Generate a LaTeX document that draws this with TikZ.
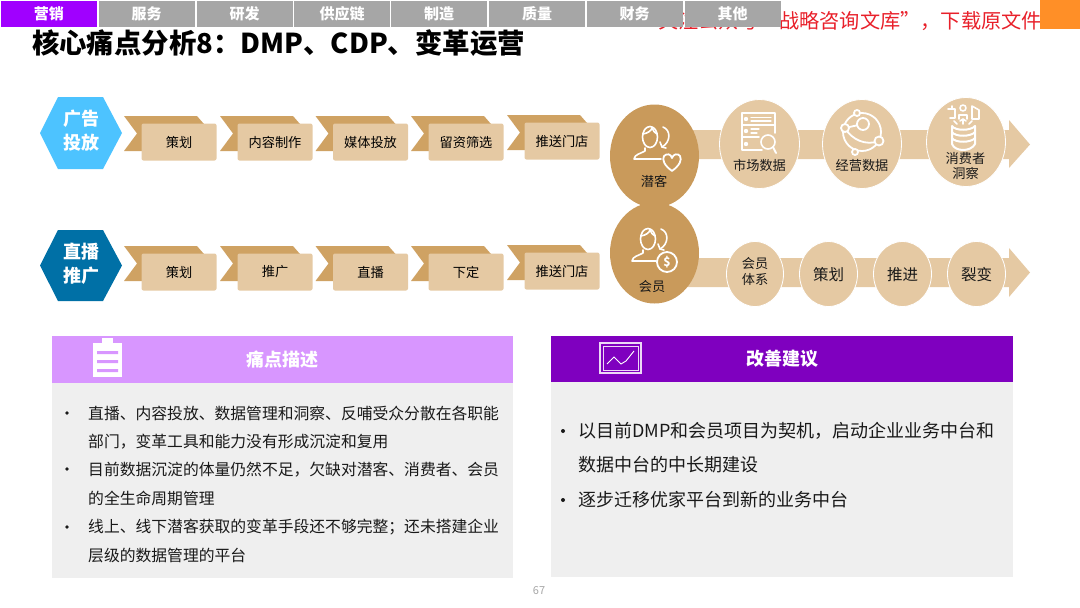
\documentclass[tikz,border=0pt]{standalone}
\usepackage{fontspec}
\setmainfont{Noto Sans CJK SC}
\usepackage{xcolor}
\usepackage{tikz}
\usetikzlibrary{shapes.geometric, arrows.meta, positioning}
\definecolor{TABpurple}{RGB}{160,0,255}
\definecolor{TABgrey}{RGB}{166,166,166}
\definecolor{TANdark}{RGB}{207,162,99}
\definecolor{TANoval}{RGB}{201,154,91}
\definecolor{TANlight}{RGB}{229,201,163}
\definecolor{HEXcyan}{RGB}{77,195,255}
\definecolor{HEXblue}{RGB}{0,112,166}
\definecolor{PANlilac}{RGB}{216,150,255}
\definecolor{PANviolet}{RGB}{127,0,191}
\definecolor{PANbody}{RGB}{239,239,239}
\definecolor{WARNred}{RGB}{232,32,42}
\definecolor{CORNERorange}{RGB}{255,143,39}
\newcommand{\fsz}[1]{\fontsize{#1pt}{#1pt}\selectfont}

\begin{document}
\begin{tikzpicture}[x=1pt, y=-1pt,
    tabbox/.style={fill=TABgrey, minimum width=96pt, minimum height=26pt, inner sep=0pt, text=white, font=\fsz{15}\bfseries},
    stepcard/.style={fill=TANlight, rounded corners=2pt, minimum width=75pt, minimum height=37pt, inner sep=0pt, font=\fsz{13.2}},
    dot/.style={fill=TANlight, draw=white, line width=0.8pt, ellipse, inner sep=0pt},
    lab/.style={font=\fsz{13.2}, align=center, inner sep=0pt, text=black!90},
    head/.style={text=white, font=\fsz{18}\bfseries, inner sep=0pt},
    hexlab/.style={text=white, font=\fsz{18}\bfseries, align=center, inner sep=0pt},
    bodytxt/.style={font=\fsz{15.8}, anchor=west, inner sep=0pt, text=black!90},
    bigtxt/.style={font=\fsz{18}, anchor=west, inner sep=0pt, text=black!90},
    icon/.style={draw=white, line width=1.6pt, line cap=round, line join=round}]
    \useasboundingbox (0,0) rectangle (1080,608);
    % Red note, partly under the tabs
    \node[text=WARNred, font=\fsz{20.2}, anchor=east, inner sep=0pt] (note) at (1042,21) {关注公众号“战略咨询文库”，下载原文件};
    \fill[CORNERorange] (1040,0) rectangle (1080,29);
    % Tabs
    \node[tabbox, fill=TABpurple] (tab0) at (49,14) {营销};
    \foreach \x/\lab/\id in {146.5/服务/1, 244.5/研发/2, 342/供应链/3, 439/制造/4, 537/质量/5, 634.5/财务/6, 732.5/其他/7}{
      \node[tabbox] (tab\id) at (\x,14) {\lab};
    }
    % Title
    \node[font=\fsz{27.4}\bfseries, anchor=west, inner sep=0pt] (title) at (32,43) {核心痛点分析8：DMP、CDP、变革运营};
    % Hexagons
    \fill[HEXcyan] (40,133) -- (58,97) -- (103,97) -- (122,133) -- (103,169) -- (58,169) -- cycle;
    \node[hexlab] (hexa) at (81,131) {广告\\[6pt]投放};
    \fill[HEXblue] (40,265.5) -- (58,230) -- (103,230) -- (122,265.5) -- (103,301) -- (58,301) -- cycle;
    \node[hexlab] (hexb) at (81,264) {直播\\[6pt]推广};
    % Step chevrons, first row
    \foreach \x/\lab/\id/\dy in {124/策划/1/0, 220/内容制作/2/0, 315.5/媒体投放/3/0, 411/留资筛选/4/0, 507/推送门店/5/-1}{
      \fill[TANdark] (\x,116+\dy) -- (\x+73,116+\dy) -- (\x+80,124+\dy) -- (\x+80,151+\dy) -- (\x,151+\dy) -- (\x+13,133.5+\dy) -- cycle;
      \node[stepcard] (ra\id) at (\x+55,142+\dy) {\lab};
    }
    % Step chevrons, second row
    \foreach \x/\lab/\id/\dy in {124/策划/1/0, 220/推广/2/0, 315.5/直播/3/0, 411/下定/4/0, 507/推送门店/5/-1}{
      \fill[TANdark] (\x,246+\dy) -- (\x+73,246+\dy) -- (\x+80,254+\dy) -- (\x+80,281+\dy) -- (\x,281+\dy) -- (\x+13,263.5+\dy) -- cycle;
      \node[stepcard] (rb\id) at (\x+55,272+\dy) {\lab};
    }
    % Bands with arrow heads
    \fill[TANlight] (680,130) -- (1009,130) -- (1009,120) -- (1030,144.5) -- (1009,168) -- (1009,159) -- (680,159) -- cycle;
    \fill[TANlight] (680,258) -- (1009,258) -- (1009,248) -- (1030,272.5) -- (1009,297) -- (1009,287) -- (680,287) -- cycle;
    % Big ovals
    \node[ellipse, fill=TANoval, minimum width=89pt, minimum height=103pt, inner sep=0pt] (lead) at (654.5,156) {};
    \node[ellipse, fill=TANoval, minimum width=89pt, minimum height=101pt, inner sep=0pt] (member) at (654.5,253) {};
    \node[lab] (leadlab) at (654,181) {潜客};
    \node[lab] (memberlab) at (652,287) {会员};
    % Discs, first row
    \node[dot, minimum width=80pt, minimum height=89pt] (market) at (759.5,144) {};
    \node[dot, minimum width=79pt, minimum height=89pt] (operate) at (862,144) {};
    \node[dot, minimum width=79pt, minimum height=89pt] (consumer) at (966,142) {};
    \node[lab] (marketlab) at (759.5,165) {市场数据};
    \node[lab] (operatelab) at (862,165) {经营数据};
    \node[lab] (consumerlab) at (965.5,166) {消费者\\[2pt]洞察};
    % Discs, second row
    \node[dot, minimum width=57pt, minimum height=65pt] (system) at (755,274) {};
    \node[dot, minimum width=58pt, minimum height=65pt] (plan) at (828.5,274) {};
    \node[dot, minimum width=58pt, minimum height=65pt] (push) at (902.5,274) {};
    \node[dot, minimum width=58pt, minimum height=65pt] (fission) at (976.5,274) {};
    \node[lab] (systemlab) at (755,271.5) {会员\\[2pt]体系};
    \node[lab, font=\fsz{15.5}] (planlab) at (828.5,274.5) {策划};
    \node[lab, font=\fsz{15.5}] (pushlab) at (902.5,274.5) {推进};
    \node[lab, font=\fsz{15.5}] (fissionlab) at (976.5,274.5) {裂变};
    % Person icons
    \foreach \dx/\dy in {0/0, -2/102}{
      \begin{scope}[shift={(\dx,\dy)}]
        \draw[icon] (650,137) ellipse (7.5pt and 10.5pt);
        \draw[icon] (643,134) .. controls (648,133) and (651,131) .. (652,128) .. controls (653,131) and (655,133) .. (657,134);
        \draw[icon] (645,148) -- (645,151) .. controls (640,154) and (635,154) .. (634,159) -- (661,159);
        \draw[icon] (663,127) .. controls (671,130) and (671,142) .. (662,147);
        \draw[icon] (660,142) -- (662,147) -- (666,148);
      \end{scope}
    }
    \draw[icon, line width=1.8pt] (672,171) .. controls (664,165) and (662,160) .. (664,156) .. controls (667,153) and (671,154) .. (672,158) .. controls (673,154) and (678,153) .. (680,156) .. controls (682,160) and (680,165) .. (672,171);
    \fill[TANoval] (667,262) circle (10.5pt);
    \draw[icon, line width=1.8pt] (667,262) circle (10pt);
    \node[text=white, font=\fsz{12}\bfseries, inner sep=0pt] (coin) at (667,262) {\$};
    % Market data icon
    \draw[icon] (762,150) -- (742,150) -- (742,113) -- (775,113) -- (775,133);
    \draw[icon] (742,125) -- (775,125);
    \draw[icon] (742,137) -- (759,137);
    \foreach \y in {119,131,144}{
      \fill[white] (746,\y) circle (2.2pt);
    }
    \draw[icon, line width=1.1pt] (751,117.5) -- (771,117.5) (751,121) -- (771,121) (751,129) -- (759,129) (751,133) -- (757,133);
    \draw[icon] (768,142) circle (7pt);
    \draw[icon, line width=2pt] (773,147) -- (776,153);
    % Operating data icon
    \draw[icon, line width=1.8pt] (862,132) circle (19pt);
    \draw[icon, line width=1.8pt] (845,128) .. controls (852,140) and (866,146) .. (879,141);
    \draw[icon, line width=1.8pt] (845,128) -- (863,124);
    \foreach \x/\y/\r in {857/113/3, 863/124/6, 845/128/4, 879/141/4.5, 855/152/3}{
      \filldraw[draw=white, fill=TANlight, line width=1.8pt] (\x,\y) circle (\r pt);
    }
    % Consumer insight icon
    \draw[icon, line width=2pt] (952,126) -- (952,144) .. controls (955,152) and (971,152) .. (975,144) -- (975,126);
    \draw[icon, line width=2pt] (952,126) .. controls (955,131) and (971,131) .. (975,126);
    \draw[icon, line width=2pt] (952,132) .. controls (955,137) and (971,137) .. (975,132);
    \draw[icon, line width=2pt] (952,138) .. controls (955,143) and (971,143) .. (975,138);
    \draw[icon] (948,109) -- (955,109) -- (955,118) -- (950,118) (952,109) -- (952,106);
    \draw[icon] (963,108) circle (3pt);
    \draw[icon] (959,119) -- (959,115) -- (967,115) -- (967,119);
    \draw[icon] (972,106) -- (979,110) -- (979,119) -- (972,119) -- cycle;
    \draw[icon] (954,121) -- (957,124) (963,124) -- (963,119) (960,121) -- (963,119) -- (966,121) (972,121) -- (969,124);
    % Left panel
    \fill[PANbody] (52,383) rectangle (513,578);
    \fill[PANlilac] (52,336) rectangle (513,383);
    \fill[white] (93,343) rectangle (122,377);
    \fill[white] (102,338) rectangle (113,345);
    \fill[PANlilac] (97,351) rectangle (118,354) (97,360) rectangle (118,363) (97,369) rectangle (118,372);
    \node[head] (leftlab) at (282.5,360) {痛点描述};
    \foreach \y/\txt/\id in {413.5/直播、内容投放、数据管理和洞察、反哺受众分散在各职能/1, 441.5/部门，变革工具和能力没有形成沉淀和复用/2, 469.5/目前数据沉淀的体量仍然不足，欠缺对潜客、消费者、会员/3, 498/的全生命周期管理/4, 527/线上、线下潜客获取的变革手段还不够完整；还未搭建企业/5, 555.5/层级的数据管理的平台/6}{
      \node[bodytxt] (lt\id) at (88,\y) {\txt};
    }
    \foreach \y/\id in {413/1, 469/2, 527/3}{
      \fill[black!90] (67,\y) circle (1.9pt);
    }
    % Right panel
    \fill[PANbody] (551,382) rectangle (1013,577);
    \fill[PANviolet] (551,336) rectangle (1013,382);
    \draw[white!85!PANviolet, line width=1.2pt] (600,343) rectangle (641,373);
    \draw[white!85!PANviolet, line width=0.9pt] (603,346) rectangle (638,370);
    \draw[white, line width=0.9pt] (607,364) -- (614,357) -- (621,364) -- (626,361) -- (634,351);
    \node[head] (rightlab) at (782,359) {改善建议};
    \node[bigtxt] (rt1) at (578,431) {以目前DMP和会员项目为契机，启动企业业务中台和};
    \node[bigtxt] (rt2) at (578,465) {数据中台的中长期建设};
    \node[bigtxt] (rt3) at (578,500) {逐步迁移优家平台到新的业务中台};
    \foreach \y in {431,500}{
      \fill[black!90] (563,\y) circle (2pt);
    }
    % Page number
    \node[text=black!35, font=\fsz{11}, inner sep=0pt] (page) at (539,591) {67};
\end{tikzpicture}
\end{document}
